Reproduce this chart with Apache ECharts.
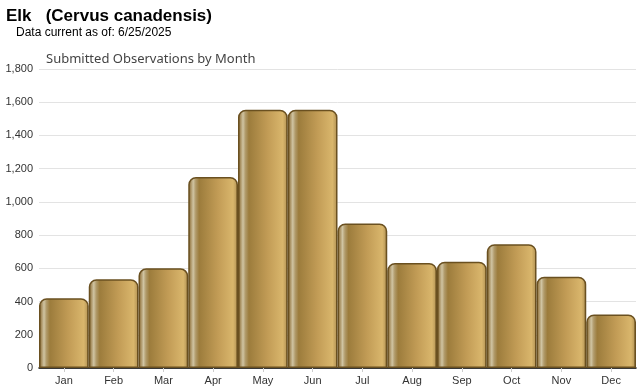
<!DOCTYPE html>
<html><head><meta charset="utf-8">
<script src="https://cdn.jsdelivr.net/npm/echarts@6/dist/echarts.min.js"></script>
<style>html,body{margin:0;padding:0;background:#fff}#c{width:640px;height:390px}</style>
</head><body><div id="c"></div>
<script>
const months = ['Jan','Feb','Mar','Apr','May','Jun','Jul','Aug','Sep','Oct','Nov','Dec'];
const observations = [420, 535, 600, 1150, 1555, 1555, 870, 632, 640, 745, 550, 322];
const yTicks = {min: 0, max: 1800, interval: 200};

const chart = echarts.init(document.getElementById('c'), null, {renderer: 'canvas'});
const barFill = new echarts.graphic.LinearGradient(0, 0, 1, 0, [
  {offset: 0, color: '#6f5520'},
  {offset: 0.04, color: '#a08655'},
  {offset: 0.1, color: '#d0c4a2'},
  {offset: 0.15, color: '#b09a6a'},
  {offset: 0.22, color: '#9c7c3c'},
  {offset: 0.6, color: '#c29c56'},
  {offset: 0.9, color: '#d9b66c'},
  {offset: 0.96, color: '#bf9e5c'},
  {offset: 1, color: '#785c22'}
]);
chart.setOption({
  animation: false,
  title: [
    {text: 'Elk   (Cervus canadensis)', left: 1, top: 3,
     textStyle: {fontFamily: 'Liberation Sans, Arial', fontSize: 17, fontWeight: 'bold', color: '#000'}},
    {text: 'Data current as of: 6/25/2025', left: 11, top: 22,
     textStyle: {fontFamily: 'Liberation Sans, Arial', fontSize: 12, fontWeight: 'normal', color: '#000'}},
    {text: 'Submitted Observations by Month', left: 41, top: 48,
     textStyle: {fontFamily: 'Noto Sans', fontSize: 13, fontWeight: 'normal', color: '#444'}}
  ],
  grid: {left: 39, right: 4, top: 69, bottom: 22, containLabel: false},
  xAxis: {
    type: 'category', data: months,
    axisLine: {lineStyle: {color: '#000', width: 1.5}},
    axisTick: {show: true, alignWithLabel: true, length: 4, lineStyle: {color: '#ccc'}},
    axisLabel: {fontFamily: 'Liberation Sans, Arial', fontSize: 11, color: '#333', margin: 7}
  },
  yAxis: {
    type: 'value', min: yTicks.min, max: yTicks.max, interval: yTicks.interval,
    axisLine: {show: false}, axisTick: {show: false},
    splitLine: {lineStyle: {color: '#e3e3e3'}},
    axisLabel: {fontFamily: 'Liberation Sans, Arial', fontSize: 11, color: '#333', margin: 6,
      formatter: v => v.toLocaleString('en-US')}
  },
  series: [{
    type: 'bar', data: observations, barCategoryGap: '0%',
    itemStyle: {color: barFill, borderColor: '#6a5020', borderWidth: 1.5, borderRadius: [7, 7, 0, 0]}
  }]
});
</script></body></html>
